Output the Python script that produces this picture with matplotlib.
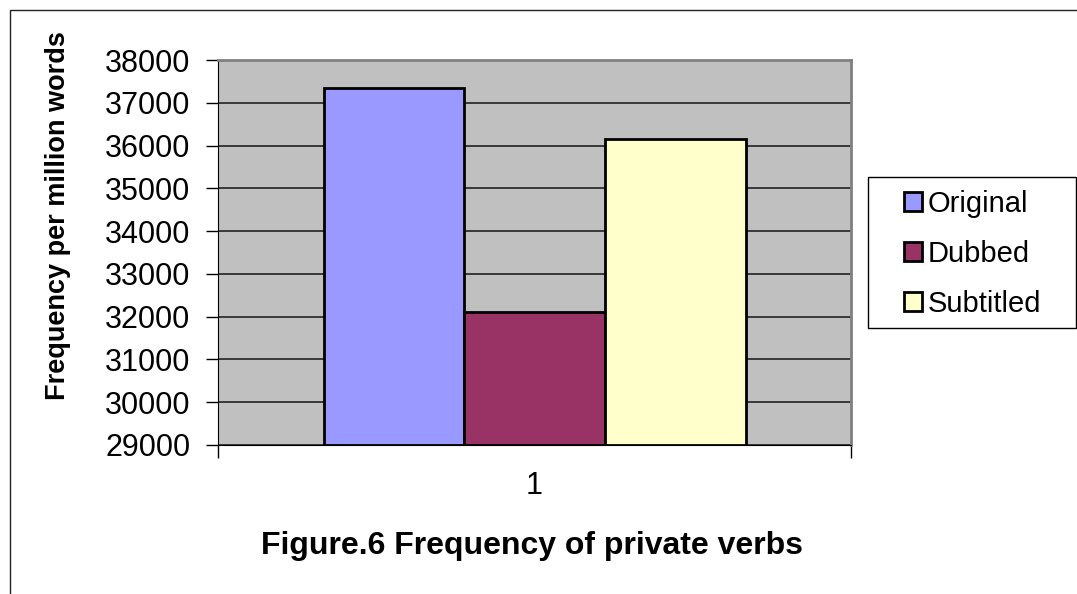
import matplotlib.pyplot as plt
from matplotlib.patches import Rectangle, Patch

plt.rcParams['font.family'] = ['Liberation Sans', 'DejaVu Sans']

# data
series = ["Original", "Dubbed", "Subtitled"]
values = [37340, 32110, 36150]
colors = ["#9999FF", "#993366", "#FFFFCC"]
category = "1"
y_ticks = list(range(29000, 38001, 1000))

W, H = 1077, 594
fig = plt.figure(figsize=(W / 100, H / 100), dpi=100)
fig.patch.set_facecolor("white")

# chart area frame (only top/left edges fall inside the image)
fig.patches.append(Rectangle((10 / W, -0.1), 1.2, (H - 10) / H + 0.1,
                             transform=fig.transFigure, fill=False,
                             edgecolor="#222222", linewidth=1.0))

ax = fig.add_axes([218 / W, 1 - 445 / H, (851 - 218) / W, (445 - 60) / H])
ax.set_facecolor("#C0C0C0")

# Excel style clustered bars, gap width 150%
n = len(series)
gap = 1.5
w = 1 / (n + gap)
start = 0.5 - n * w / 2
for i, (name, v, c) in enumerate(zip(series, values, colors)):
    ax.bar(start + i * w, v - y_ticks[0], bottom=y_ticks[0], width=w, align="edge",
           color=c, edgecolor="black", linewidth=2, label=name, zorder=3)

ax.set_xlim(0, 1)
ax.set_ylim(y_ticks[0], y_ticks[-1])
ax.set_yticks(y_ticks)
ax.set_yticklabels([str(t) for t in y_ticks], fontsize=22)
ax.yaxis.grid(True, color="#222222", linewidth=1.2, zorder=1)
ax.set_axisbelow(True)

ax.set_xticks([0.5])
ax.set_xticklabels([category], fontsize=22)
ax.tick_params(axis="x", which="major", length=0, pad=19)
ax.set_xticks([0, 1], minor=True)
ax.tick_params(axis="x", which="minor", length=9, width=1, color="black", direction="out")
ax.tick_params(axis="y", length=9, width=1, color="black", direction="out", pad=11)

for side in ["top", "right"]:
    ax.spines[side].set_color("#808080")
    ax.spines[side].set_linewidth(2)
ax.spines["left"].set_color("black")
ax.spines["bottom"].set_color("black")

ax.set_ylabel("Frequency per million words", fontsize=19.5, fontweight="bold")
ax.yaxis.set_label_coords(-0.232, 0.597)

fig.text(532 / W, 1 - 546 / H, "Figure.6 Frequency of private verbs",
         fontsize=23, fontweight="bold", ha="center", va="center")

# legend entries without frame, box drawn separately
handles = [Patch(facecolor=c, edgecolor="black", linewidth=2, label=s)
           for s, c in zip(series, colors)]
leg = fig.legend(handles=handles, loc="upper left",
                 bbox_to_anchor=(904 / W, 1 - 190 / H),
                 fontsize=21, frameon=False,
                 handlelength=0.6, handleheight=0.6, handletextpad=0.2,
                 labelspacing=0.75, borderpad=0, borderaxespad=0)
fig.patches.append(Rectangle((868 / W, 1 - 328 / H), (1076 - 868) / W, (328 - 177) / H,
                             transform=fig.transFigure, facecolor="white",
                             edgecolor="black", linewidth=1.0, zorder=0))

fig.savefig("out.png", dpi=100)
